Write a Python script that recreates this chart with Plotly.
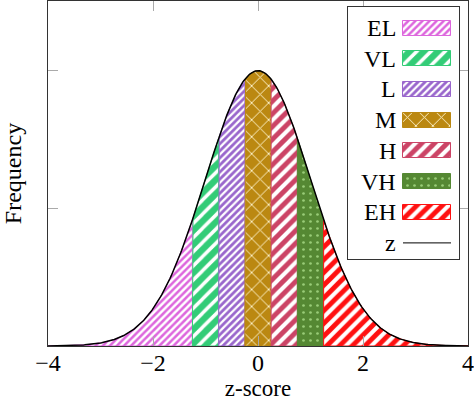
import numpy as np
import plotly.graph_objects as go

# ---- data ----
labels = ["EL", "VL", "L", "M", "H", "VH", "EH"]
bounds = [-4.0, -1.25, -0.75, -0.25, 0.25, 0.75, 1.25, 4.0]
colors = ["#DD66DD", "#33CC77", "#9966CC", "#BB8811", "#CC4466", "#558833", "#FF1111"]
pat_shape = ["/", "/", "/", "x", "/", ".", "/"]
pat_fg = ["white", "white", "white", "#FFF5D0", "white", "#99CC77", "#FF1111"]
pat_bg = ["#DD66DD", "#33CC77", "#9966CC", "#BB8811", "#CC4466", "#558833", "white"]
pat_size = [5, 10, 5, 12, 9, 7, 9]
pat_sol = [0.5, 0.35, 0.45, 0.15, 0.45, 0.12, 0.55]
mu, sigma = 0.0, 1.0
x_ticks = [-4, -2, 0, 2, 4]
y_ticks = [0, 0.2, 0.4]


def pdf(x):
    return np.exp(-0.5 * ((x - mu) / sigma) ** 2) / (sigma * np.sqrt(2 * np.pi))


fig = go.Figure()

for i, lab in enumerate(labels):
    a, b = bounds[i], bounds[i + 1]
    xs = np.linspace(a, b, 120)
    px = np.concatenate([[a], xs, [b, a]])
    py = np.concatenate([[0], pdf(xs), [0, 0]])
    fig.add_trace(go.Scatter(
        x=px, y=py, mode="lines", fill="toself",
        line=dict(color=colors[i], width=1),
        fillcolor=pat_bg[i],
        fillpattern=dict(shape=pat_shape[i], fgcolor=pat_fg[i], bgcolor=pat_bg[i],
                         size=pat_size[i], solidity=pat_sol[i], fillmode="replace"),
        showlegend=False, hoverinfo="skip"))

xc = np.linspace(bounds[0], bounds[-1], 400)
fig.add_trace(go.Scatter(x=xc, y=pdf(xc), mode="lines",
                         line=dict(color="black", width=1.5), showlegend=False))

# ---- custom legend (inset axis in pixel-like units) ----
row0, row_step = 28, 30.7
sw_x0, sw_len, sw_h = 403, 48, 15
for i, lab in enumerate(labels):
    yc = row0 + i * row_step
    fig.add_trace(go.Bar(
        x=[sw_len], base=[sw_x0], y=[yc], orientation="h", width=sw_h,
        marker=dict(color=pat_bg[i], line=dict(color=colors[i], width=1),
                    pattern=dict(shape=pat_shape[i], fgcolor=pat_fg[i], bgcolor=pat_bg[i],
                                 size=pat_size[i], solidity=pat_sol[i], fillmode="replace")),
        xaxis="x2", yaxis="y2", showlegend=False, hoverinfo="skip"))
    fig.add_annotation(x=398, y=yc, xref="x2", yref="y2", text=lab, showarrow=False,
                       xanchor="right", yanchor="middle",
                       font=dict(family="Liberation Serif", size=24, color="black"))
yz = row0 + len(labels) * row_step
fig.add_trace(go.Scatter(x=[sw_x0, sw_x0 + sw_len], y=[yz, yz], mode="lines",
                         line=dict(color="black", width=1), xaxis="x2", yaxis="y2",
                         showlegend=False, hoverinfo="skip"))
fig.add_annotation(x=398, y=yz, xref="x2", yref="y2", text="z", showarrow=False,
                   xanchor="right", yanchor="middle",
                   font=dict(family="Liberation Serif", size=24, color="black"))

W, H = 474, 401
ml, mr, mt, mb = 48, 6, 1, 55
pw, ph = W - ml - mr, H - mt - mb
bx0, bx1, by0, by1 = 348, 459, 7, 259

fig.update_layout(
    width=W, height=H, margin=dict(l=ml, r=mr, t=mt, b=mb),
    paper_bgcolor="white", plot_bgcolor="white",
    font=dict(family="Liberation Serif", size=24, color="black"),
    xaxis=dict(range=[-4, 4], tickvals=x_ticks, ticks="inside", ticklen=10,
               tickcolor="#aaaaaa", tickwidth=1.2, showline=True, linecolor="#333333",
               linewidth=1.2, mirror="ticks", showgrid=False, zeroline=False,
               ticklabelstandoff=-5, automargin=False,
               title=dict(text="z-score", standoff=10, font=dict(size=23))),
    yaxis=dict(range=[0, 0.5], tickvals=y_ticks, showticklabels=False, ticks="inside",
               ticklen=10, tickcolor="#aaaaaa", tickwidth=1.2, showline=True,
               linecolor="#333333", linewidth=1.2, mirror="ticks", showgrid=False,
               zeroline=False, automargin=False,
               title=dict(text="Frequency", standoff=24, font=dict(size=24))),
    xaxis2=dict(domain=[(bx0 - ml) / pw, (bx1 - ml) / pw], range=[bx0, bx1],
                anchor="y2", showticklabels=False, ticks="", showgrid=False,
                zeroline=False, showline=True, mirror=True, linecolor="#333333",
                linewidth=1.2, fixedrange=True),
    yaxis2=dict(domain=[((H - mb) - by1) / ph, ((H - mb) - by0) / ph],
                range=[by1, by0], anchor="x2", showticklabels=False, ticks="",
                showgrid=False, zeroline=False, showline=True, mirror=True,
                linecolor="#333333", linewidth=1.2, fixedrange=True),
    bargap=0,
)
fig.write_html("out.html", config={"displayModeBar": False},
               post_script="document.body.style.margin='0';")
